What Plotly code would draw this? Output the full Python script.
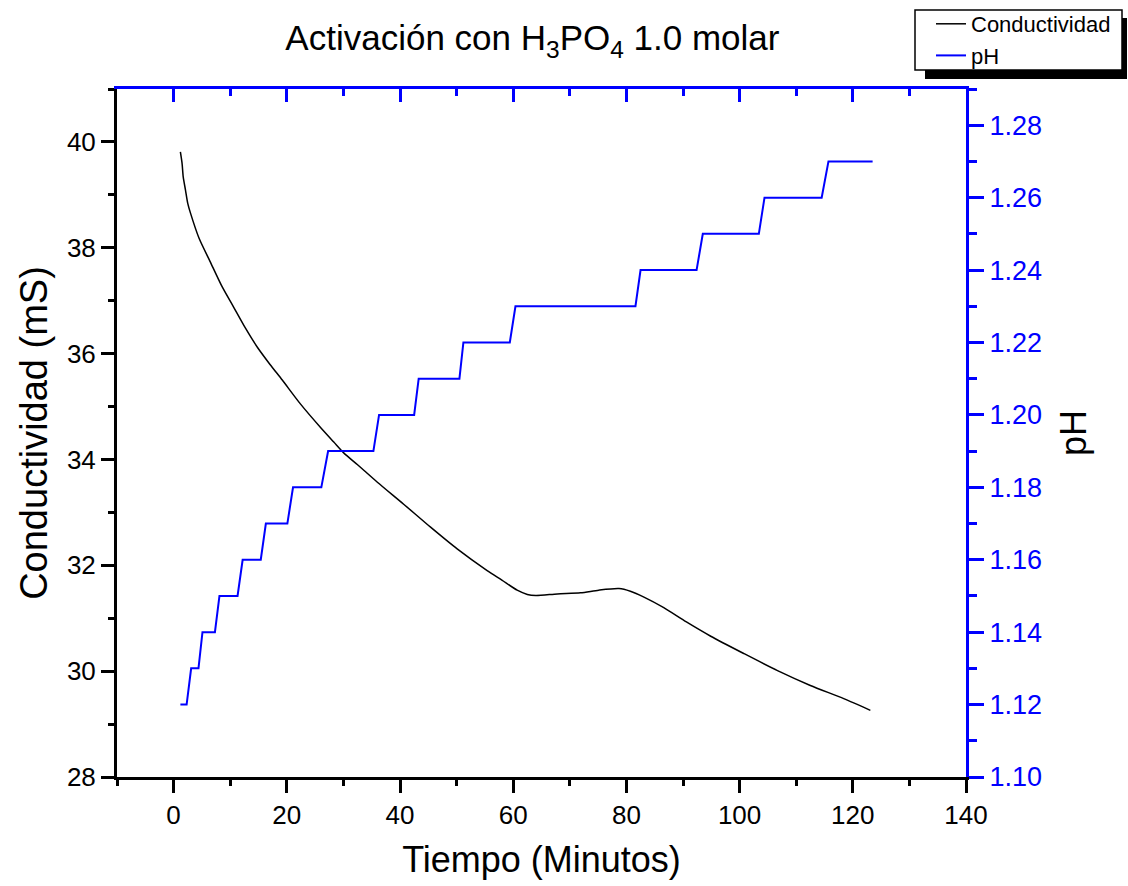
import plotly.graph_objects as go

# ---- data ----
cond_time = [1.2, 1.5, 1.7, 2.1, 2.5, 3.0, 4.5, 6.5, 8.5, 10.6, 12.7, 14.8, 17.0, 19.2,
             22.4, 26.0, 28.3, 30.1, 32.5, 36.0, 40.7, 45.4, 50.1, 55.4, 58.0, 60.7,
             62.5, 64.0, 67.8, 71.9, 75.1, 78.7, 80.7, 83.1, 86.6, 90.6, 94.9, 100.8,
             106.7, 112.5, 118.4, 123.1]
conductividad = [39.81, 39.59, 39.34, 39.09, 38.84, 38.65, 38.18, 37.73, 37.28, 36.88,
                 36.48, 36.12, 35.80, 35.50, 35.05, 34.60, 34.33, 34.12, 33.90, 33.57,
                 33.15, 32.72, 32.31, 31.90, 31.72, 31.53, 31.45, 31.43, 31.46, 31.48,
                 31.53, 31.56, 31.51, 31.40, 31.20, 30.93, 30.66, 30.33, 30.01, 29.73,
                 29.48, 29.26]

ph_time = [1.2, 2.3, 3.1, 4.4, 5.1, 7.3, 8.1, 11.3, 12.2, 15.4, 16.3, 20.1, 21.1, 26.1,
           27.3, 35.3, 36.3, 42.5, 43.3, 50.5, 51.2, 59.4, 60.4, 81.6, 82.5, 92.4,
           93.5, 103.4, 104.4, 114.5, 115.7, 123.5]
ph_values = [1.12, 1.12, 1.13, 1.13, 1.14, 1.14, 1.15, 1.15, 1.16, 1.16, 1.17, 1.17,
             1.18, 1.18, 1.19, 1.19, 1.20, 1.20, 1.21, 1.21, 1.22, 1.22, 1.23, 1.23,
             1.24, 1.24, 1.25, 1.25, 1.26, 1.26, 1.27, 1.27]

x_ticks = [0, 20, 40, 60, 80, 100, 120, 140]

FONT = "Liberation Sans, Arial, sans-serif"
BLUE = "#0000FF"

fig = go.Figure()
fig.add_trace(go.Scatter(x=cond_time, y=conductividad, mode="lines", name="Conductividad",
                         line=dict(color="black", width=1.5, shape="spline", smoothing=0.7),
                         xaxis="x", yaxis="y"))
fig.add_trace(go.Scatter(x=ph_time, y=ph_values, mode="lines", name="pH",
                         line=dict(color=BLUE, width=2), xaxis="x2", yaxis="y2"))

L, R, T, B = 117, 162, 89, 109
W, H = 1128, 886
pw, ph = W - L - R, H - T - B


def px(xp):
    return (xp - L) / pw


def py(yp):
    return (H - B - yp) / ph


fig.update_layout(
    width=W, height=H,
    margin=dict(l=L, r=R, t=T, b=B, autoexpand=False),
    paper_bgcolor="white", plot_bgcolor="white",
    font=dict(family=FONT, color="black"),
    title=dict(text="Activación con H<sub>3</sub>PO<sub>4</sub> 1.0 molar",
               x=0.472, xanchor="center", y=1 - 38 / H, yanchor="middle",
               font=dict(size=35, family=FONT, color="black")),
    showlegend=True,
    legend=dict(x=px(931), y=py(3), xanchor="left", yanchor="top",
                bgcolor="rgba(0,0,0,0)", borderwidth=0,
                font=dict(size=22, family=FONT, color="black"),
                tracegroupgap=0, itemwidth=30),
    xaxis=dict(range=[-10, 140], tickvals=x_ticks, ticks="outside", ticklen=13,
               tickwidth=3, tickcolor="black", showline=True, linewidth=3,
               linecolor="black", showgrid=False, zeroline=False,
               tickfont=dict(size=26, family=FONT, color="black"),
               minor=dict(dtick=10, ticks="outside", ticklen=6, tickwidth=3,
                          tickcolor="black", showgrid=False),
               title=dict(text="Tiempo (Minutos)", font=dict(size=36, family=FONT),
                          standoff=18)),
    xaxis2=dict(overlaying="x", matches="x", side="top", anchor="y2",
                range=[-10, 140], tickvals=x_ticks, ticks="inside", ticklen=13,
                tickwidth=3, tickcolor=BLUE, showline=True, linewidth=3,
                linecolor=BLUE, showgrid=False, zeroline=False, showticklabels=False,
                minor=dict(dtick=10, ticks="inside", ticklen=7, tickwidth=3,
                           tickcolor=BLUE, showgrid=False)),
    yaxis=dict(range=[28, 41], dtick=2, tick0=28, ticks="outside", ticklen=13,
               tickwidth=3, tickcolor="black", showline=True, linewidth=3,
               linecolor="black", showgrid=False, zeroline=False,
               tickfont=dict(size=26, family=FONT, color="black"),
               minor=dict(dtick=1, ticks="outside", ticklen=6, tickwidth=3,
                          tickcolor="black", showgrid=False),
               title=dict(text="Conductividad (mS)", font=dict(size=38, family=FONT),
                          standoff=8)),
    yaxis2=dict(overlaying="y", side="right", anchor="x2",
                range=[1.10, 1.29], dtick=0.02, tick0=1.10, tickformat=".2f",
                ticks="outside", ticklen=15, tickwidth=3, tickcolor=BLUE,
                showline=True, linewidth=3, linecolor=BLUE, showgrid=False,
                zeroline=False, tickfont=dict(size=27, family=FONT, color=BLUE),
                minor=dict(dtick=0.01, ticks="outside", ticklen=8, tickwidth=3,
                           tickcolor=BLUE, showgrid=False),
                title=dict(text="pH", font=dict(size=36, family=FONT, color="black"),
                           standoff=20)),
    shapes=[
        dict(type="rect", xref="paper", yref="paper",
             x0=px(925), x1=px(1127), y0=py(79), y1=py(18),
             fillcolor="black", line=dict(width=0), layer="above"),
        dict(type="rect", xref="paper", yref="paper",
             x0=px(915), x1=px(1122), y0=py(70), y1=py(10),
             fillcolor="white", line=dict(color="black", width=1.5), layer="above"),
    ],
)

fig.write_html("out.html")
